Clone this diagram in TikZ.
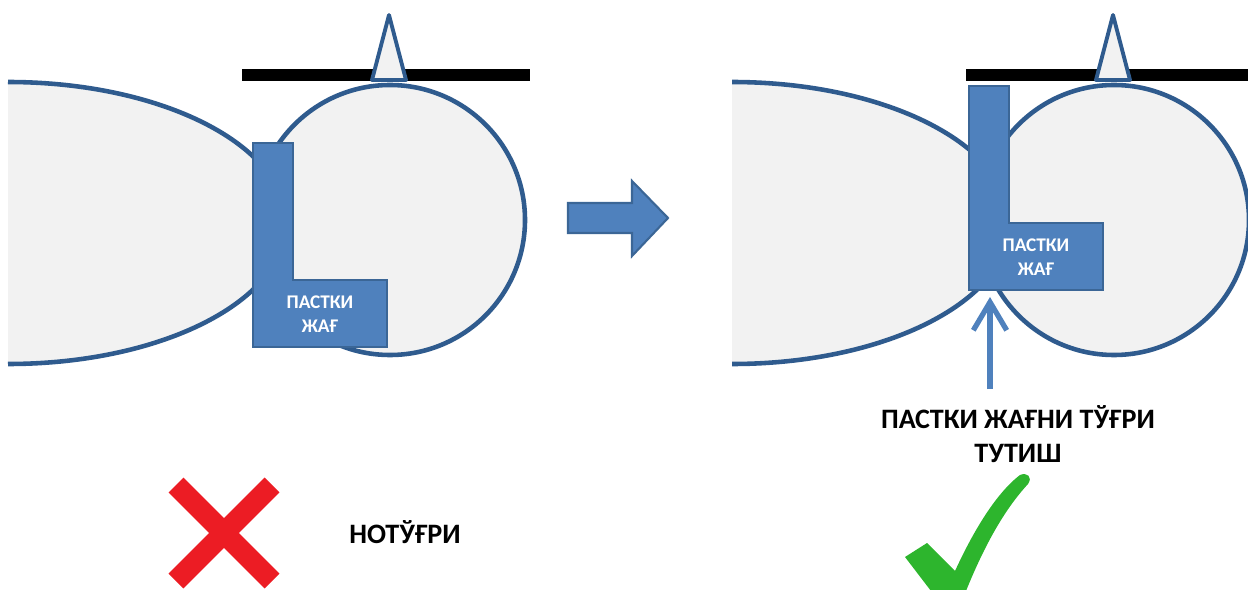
\documentclass[tikz,border=0pt]{standalone}
\usepackage{fontspec}
\setmainfont{Carlito}
\usepackage{xcolor}
\usetikzlibrary{arrows.meta}

\definecolor{lobefill}{HTML}{F2F2F2}
\definecolor{rim}{HTML}{2F5B8E}
\definecolor{jaw}{HTML}{4F81BD}
\definecolor{jawrim}{HTML}{3B6696}
\definecolor{crossred}{HTML}{EC1C24}
\definecolor{tickgreen}{HTML}{2DB52D}

\begin{document}
\begin{tikzpicture}[x=0.02cm, y=0.02cm,
        lobe/.style = {fill=lobefill, draw=rim, line width=2.6pt},
        jawbox/.style = {fill=jaw, draw=jawrim, line width=1.2pt, line join=miter},
        jawtext/.style = {text=white, font=\bfseries\fontsize{11}{13.5}\selectfont, align=center},
        caption/.style = {font=\bfseries\fontsize{16}{19.3}\selectfont, align=center}]
    \useasboundingbox (0,0) rectangle (1248,589);

    % both panels: lobe, round part, bar and pointer
    \foreach \s in {0,724} {
        \fill[lobefill] (8+\s,507) arc[start angle=90, end angle=-90, x radius=278, y radius=141] -- cycle;
        \draw[lobe, fill=none] (8+\s,507) arc[start angle=90, end angle=-90, x radius=278, y radius=141];
        \draw[lobe] (390+\s,369) circle[radius=135];
        \fill[black] (242+\s,508) rectangle (530+\s,520);
        \draw[lobe, line width=2.2pt, line join=round] (372+\s,509) -- (389+\s,574) -- (406+\s,509) -- cycle;
    }

    % the L pieces
    \draw[jawbox] (253,446) -- ++(40,0) -- ++(0,-137) -- ++(94,0) -- ++(0,-67) -- ++(-134,0) -- cycle;
    \node[jawtext] (jawA) at (320,275) {ПАСТКИ\\ЖАҒ};
    \draw[jawbox] (969,503) -- ++(40,0) -- ++(0,-137) -- ++(94,0) -- ++(0,-67) -- ++(-134,0) -- cycle;
    \node[jawtext] (jawB) at (1036,332) {ПАСТКИ\\ЖАҒ};

    % big arrow between the panels
    \draw[jawbox] (568,356) -- (632,356) -- (632,333) -- (668,371) -- (632,408) -- (632,386) -- (568,386) -- cycle;

    % labels
    \node[caption] (hold) at (1018,155) {ПАСТКИ ЖАҒНИ ТЎҒРИ\\ТУТИШ};
    \node[caption] (wrong) at (405,57) {НОТЎҒРИ};

    \coordinate (tail) at (990,200);
    \coordinate (aim) at (990,292);
    \draw[draw=jaw, line width=3pt, -{Straight Barb[length=16pt, width=19pt]}] (tail) -- (aim);

    % cross and tick
    \draw[crossred, line width=11.9pt] (176,104) -- (272,8);
    \draw[crossred, line width=11.9pt] (176,8) -- (272,104);
    \fill[tickgreen] (905,32) -- (927,46) -- (955,18) .. controls (972,55) and (995,95) .. (1020,114)
        .. controls (1027,117) and (1033,112) .. (1028,105)
        .. controls (1005,80) and (985,45) .. (966,-2) -- (931,-2) -- cycle;
\end{tikzpicture}
\end{document}
